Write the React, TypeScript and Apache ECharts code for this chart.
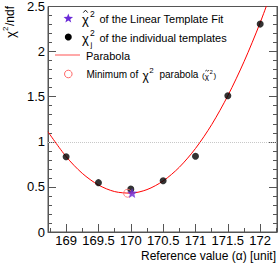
import React, { useEffect, useRef } from "react";
import * as echarts from "echarts";

const xMajorTicks = [169, 169.5, 170, 170.5, 171, 171.5, 172];
const xMinorTicks = [168.75, 169.25, 169.75, 170.25, 170.75, 171.25, 171.75, 172.25];
const templateX = [169, 169.5, 170, 170.5, 171, 171.5, 172];
const templateChi2 = [0.835, 0.547, 0.475, 0.569, 0.84, 1.51, 2.305];
const linearFitX = [170.02];
const linearFitChi2 = [0.433];
const minimumX = [169.95];
const minimumChi2 = [0.43];
const parabolaX = [168.72, 169, 169.25, 169.5, 169.75, 170, 170.25, 170.5, 170.75, 171, 171.25, 171.5, 171.75, 172, 172.25];
const parabolaY = [1.111, 0.836, 0.65, 0.521, 0.448, 0.431, 0.47, 0.566, 0.718, 0.926, 1.19, 1.511, 1.888, 2.321, 2.81];

const FONT = "Liberation Sans";
const STAR = "path://M12,2 L14.9,8.6 L22,9.3 L16.6,14 L18.2,21 L12,17.3 L5.8,21 L7.4,14 L2,9.3 L9.1,8.6 Z";
const STAR_COLOR = "#6b2bd8";
const CIRCLE_COLOR = "#ff6a6a";

function txt(x: number, y: number, text: string, size: number, extra: any = {}) {
  return {
    type: "text",
    x,
    y,
    style: { text, fontSize: size, fontFamily: FONT, fill: "#000", verticalAlign: "middle", textAlign: "left", ...extra },
  };
}

function starPoints(cx: number, cy: number, ro: number, ri: number) {
  const pts: number[][] = [];
  for (let i = 0; i < 10; i++) {
    const r = i % 2 === 0 ? ro : ri;
    const a = -Math.PI / 2 + (i * Math.PI) / 5;
    pts.push([cx + r * Math.cos(a), cy + r * Math.sin(a)]);
  }
  return pts;
}

export default function App() {
  const ref = useRef<HTMLDivElement>(null);
  useEffect(() => {
    if (!ref.current) return;
    const chart = echarts.init(ref.current, undefined, { renderer: "svg" });
    const axisColor = "#555";
    chart.setOption({
      animation: false,
      grid: { left: 48, right: 3, top: 5, bottom: 44, show: true, borderColor: axisColor, borderWidth: 1, backgroundColor: "transparent" },
      xAxis: [
        {
          type: "value",
          min: 168.72,
          max: 172.26,
          axisLine: { show: true, lineStyle: { color: axisColor } },
          axisTick: { show: true, inside: true, length: 8, customValues: xMajorTicks, lineStyle: { color: axisColor } },
          axisLabel: { customValues: xMajorTicks, fontSize: 13, lineHeight: 13, fontFamily: FONT, color: "#000", margin: 2 },
          splitLine: { show: false },
        },
        {
          type: "value",
          min: 168.72,
          max: 172.26,
          position: "bottom",
          axisLine: { show: false },
          axisTick: { show: true, inside: true, length: 4, customValues: xMinorTicks, lineStyle: { color: axisColor } },
          axisLabel: { show: false },
          splitLine: { show: false },
        },
      ],
      yAxis: [
        {
          type: "value",
          min: 0,
          max: 2.5,
          interval: 0.5,
          axisLine: { show: true, lineStyle: { color: axisColor } },
          axisTick: { show: true, inside: true, length: 8, lineStyle: { color: axisColor } },
          minorTick: { show: true, splitNumber: 5, length: 4, lineStyle: { color: axisColor } },
          axisLabel: { fontSize: 13, fontFamily: FONT, color: "#000", margin: 3 },
          splitLine: { show: false },
        },
        {
          type: "value",
          position: "right",
          min: 0,
          max: 2.5,
          interval: 0.5,
          axisLine: { show: true, lineStyle: { color: axisColor } },
          axisTick: { show: true, inside: true, length: 8, lineStyle: { color: axisColor } },
          minorTick: { show: true, splitNumber: 5, length: 4, lineStyle: { color: axisColor } },
          axisLabel: { show: false },
          splitLine: { show: false },
        },
      ],
      series: [
        {
          type: "line",
          data: parabolaX.map((x, i) => [x, parabolaY[i]]),
          smooth: 0.3,
          showSymbol: false,
          symbol: "none",
          clip: true,
          lineStyle: { color: "#ff0000", width: 1 },
          markLine: {
            silent: true,
            symbol: "none",
            label: { show: false },
            lineStyle: { color: "#c8c8c8", type: "dotted", width: 1 },
            data: [{ yAxis: 1 }],
          },
          z: 2,
        },
        {
          type: "scatter",
          data: templateX.map((x, i) => [x, templateChi2[i]]),
          symbol: "circle",
          symbolSize: 7,
          itemStyle: { color: "#000" },
          z: 3,
        },
        {
          type: "scatter",
          data: minimumX.map((x, i) => [x, minimumChi2[i]]),
          symbol: "circle",
          symbolSize: 8,
          itemStyle: { color: "transparent", borderColor: CIRCLE_COLOR, borderWidth: 1 },
          z: 4,
        },
        {
          type: "scatter",
          data: linearFitX.map((x, i) => [x, linearFitChi2[i]]),
          symbol: STAR,
          symbolSize: 10,
          itemStyle: { color: STAR_COLOR },
          z: 5,
        },
      ],
      graphic: [
        // legend icons
        { type: "polygon", shape: { points: starPoints(68.3, 18.5, 5, 2.1) }, style: { fill: STAR_COLOR } },
        { type: "circle", shape: { cx: 68.3, cy: 37, r: 3.5 }, style: { fill: "#000" } },
        { type: "line", shape: { x1: 55, y1: 55, x2: 80, y2: 55 }, style: { stroke: "#ff7070", lineWidth: 1.2 } },
        { type: "circle", shape: { cx: 68.3, cy: 74, r: 3.8 }, style: { fill: "none", stroke: CIRCLE_COLOR, lineWidth: 1 } },
        // row 1
        { type: "polyline", shape: { points: [[83.3, 12.6], [85.5, 10.2], [87.7, 12.6]] }, style: { stroke: "#000", lineWidth: 0.9, fill: null } },
        txt(82, 19, "χ", 13),
        txt(90, 13.5, "2", 8.5),
        txt(99.5, 18.5, "of the Linear Template Fit", 11),
        // row 2
        txt(82, 38, "χ", 13),
        txt(90, 33, "2", 8.5),
        txt(90.5, 44, "j", 8),
        txt(99.5, 37.5, "of the individual templates", 11),
        // row 3
        txt(86, 55.5, "Parabola", 11),
        // row 4
        txt(86.5, 74.5, "Minimum of", 10),
        txt(142.5, 75.5, "χ", 12),
        txt(149.2, 70, "2", 8),
        txt(159.5, 74.5, "parabola", 10),
        txt(202, 75.5, "(", 8),
        txt(204.8, 76, "χ", 8),
        { type: "polyline", shape: { points: [[205.2, 71.2], [206.3, 70.2], [207.8, 71.2], [209, 70.2]] }, style: { stroke: "#000", lineWidth: 0.7, fill: null } },
        txt(209.6, 71.5, "2", 6),
        txt(213.4, 75.5, ")", 8),
        // x axis title
        txt(276, 256, "Reference value (α) [unit]", 12, { textAlign: "right" }),
        // y axis title rotated
        {
          type: "group",
          x: 10,
          y: 38,
          rotation: Math.PI / 2,
          children: [
            txt(0, 0, "χ", 13),
            txt(7, -5, "2", 8),
            txt(12, 0, "/ndf", 12),
          ],
        },
      ],
    });
    return () => chart.dispose();
  }, []);
  return (
    <div style={{ position: "absolute", left: 0, top: 0, width: 280, height: 276 }}>
      <div ref={ref} style={{ width: 280, height: 276 }} />
    </div>
  );
}
